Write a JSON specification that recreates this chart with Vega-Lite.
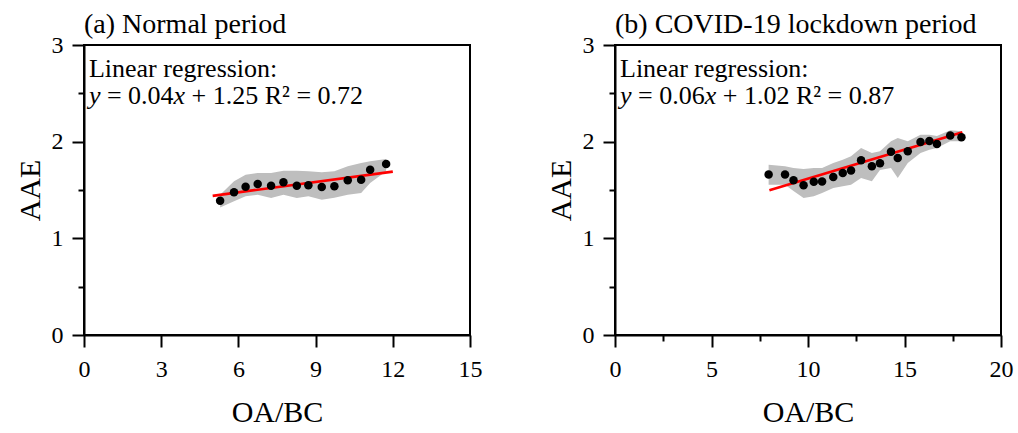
{
  "$schema": "https://vega.github.io/schema/vega-lite/v6.json",
  "padding": {"left": 14, "top": 10, "right": 5, "bottom": 0},
  "background": "white",
  "spacing": 62,
  "config": {
    "font": "Liberation Serif",
    "view": {"stroke": "black", "strokeWidth": 2},
    "axis": {
      "domainColor": "black", "domainWidth": 2, "tickColor": "black", "tickWidth": 2,
      "labelColor": "black", "labelFontSize": 24, "labelFont": "Liberation Serif",
      "titleFont": "Liberation Serif", "titleFontSize": 30, "titleFontWeight": "normal", "titleColor": "black",
      "grid": false, "labelOverlap": false, "labelFlush": false
    },
    "title": {"font": "Liberation Serif", "fontSize": 28, "fontWeight": "normal", "anchor": "start", "frame": "group", "color": "black", "offset": -6}
  },
  "datasets": {
    "a_pts": [
      {"oabc": 5.29, "aae": 1.39, "lo": 1.32, "hi": 1.45},
      {"oabc": 5.83, "aae": 1.476, "lo": 1.383, "hi": 1.59},
      {"oabc": 6.28, "aae": 1.534, "lo": 1.435, "hi": 1.658},
      {"oabc": 6.75, "aae": 1.562, "lo": 1.451, "hi": 1.676},
      {"oabc": 7.27, "aae": 1.545, "lo": 1.417, "hi": 1.676},
      {"oabc": 7.75, "aae": 1.58, "lo": 1.451, "hi": 1.7},
      {"oabc": 8.27, "aae": 1.545, "lo": 1.417, "hi": 1.7},
      {"oabc": 8.72, "aae": 1.548, "lo": 1.435, "hi": 1.693},
      {"oabc": 9.24, "aae": 1.531, "lo": 1.4, "hi": 1.683},
      {"oabc": 9.73, "aae": 1.538, "lo": 1.42, "hi": 1.693},
      {"oabc": 10.25, "aae": 1.6, "lo": 1.451, "hi": 1.745},
      {"oabc": 10.77, "aae": 1.606, "lo": 1.469, "hi": 1.779},
      {"oabc": 11.12, "aae": 1.71, "lo": 1.572, "hi": 1.797},
      {"oabc": 11.74, "aae": 1.77, "lo": 1.693, "hi": 1.821}
    ],
    "a_fit": [
      {"oabc": 5.0, "aae": 1.44},
      {"oabc": 12.0, "aae": 1.69}
    ],
    "a_txt": [
      {"tx": 0.19, "ty": 2.669, "label": "Linear regression:"},
      {"tx": 0.89, "ty": 2.39, "label": "= 0.04"},
      {"tx": 4.181, "ty": 2.39, "label": "+ 1.25 R² = 0.72"}
    ],
    "a_ital": [
      {"tx": 0.19, "ty": 2.39, "label": "y"},
      {"tx": 3.482, "ty": 2.39, "label": "x"}
    ],
    "b_pts": [
      {"oabc": 7.96, "aae": 1.66, "lo": 1.555, "hi": 1.762},
      {"oabc": 8.81, "aae": 1.66, "lo": 1.555, "hi": 1.745},
      {"oabc": 9.25, "aae": 1.6, "lo": 1.49, "hi": 1.727},
      {"oabc": 9.77, "aae": 1.549, "lo": 1.417, "hi": 1.717},
      {"oabc": 10.3, "aae": 1.586, "lo": 1.435, "hi": 1.727},
      {"oabc": 10.73, "aae": 1.588, "lo": 1.469, "hi": 1.727},
      {"oabc": 11.31, "aae": 1.634, "lo": 1.521, "hi": 1.779},
      {"oabc": 11.8, "aae": 1.676, "lo": 1.538, "hi": 1.813},
      {"oabc": 12.23, "aae": 1.701, "lo": 1.555, "hi": 1.849},
      {"oabc": 12.75, "aae": 1.807, "lo": 1.624, "hi": 1.934},
      {"oabc": 13.31, "aae": 1.745, "lo": 1.59, "hi": 1.883},
      {"oabc": 13.73, "aae": 1.776, "lo": 1.707, "hi": 1.9},
      {"oabc": 14.3, "aae": 1.896, "lo": 1.727, "hi": 2.004},
      {"oabc": 14.65, "aae": 1.831, "lo": 1.624, "hi": 2.038},
      {"oabc": 15.17, "aae": 1.9, "lo": 1.779, "hi": 2.004},
      {"oabc": 15.83, "aae": 1.996, "lo": 1.883, "hi": 2.072},
      {"oabc": 16.29, "aae": 2.007, "lo": 1.917, "hi": 2.072},
      {"oabc": 16.68, "aae": 1.976, "lo": 1.934, "hi": 2.059},
      {"oabc": 17.37, "aae": 2.064, "lo": 2.004, "hi": 2.118},
      {"oabc": 17.95, "aae": 2.045, "lo": 2.004, "hi": 2.107}
    ],
    "b_fit": [
      {"oabc": 8.0, "aae": 1.497},
      {"oabc": 18.0, "aae": 2.097}
    ],
    "b_txt": [
      {"tx": 0.26, "ty": 2.669, "label": "Linear regression:"},
      {"tx": 1.193, "ty": 2.39, "label": "= 0.06"},
      {"tx": 5.581, "ty": 2.39, "label": "+ 1.02 R² = 0.87"}
    ],
    "b_ital": [
      {"tx": 0.26, "ty": 2.39, "label": "y"},
      {"tx": 4.649, "ty": 2.39, "label": "x"}
    ]
  },
  "hconcat": [
    {
      "width": 386,
      "height": 290,
      "title": {"text": "(a) Normal period"},
      "layer": [
        {
          "data": {"name": "a_pts"},
          "mark": {"type": "area", "color": "#bebebe", "opacity": 1},
          "encoding": {
            "x": {
              "field": "oabc", "type": "quantitative",
              "scale": {"domain": [0, 15], "nice": false},
              "axis": {
                "title": "OA/BC", "values": [0, 1.5, 3, 4.5, 6, 7.5, 9, 10.5, 12, 13.5, 15],
                "format": "~g",
                "labelExpr": "datum.value % 3 === 0 ? datum.label : ''",
                "tickSize": {"condition": {"test": "datum.value % 3 === 0", "value": 12}, "value": 6},
                "labelPadding": 10, "titlePadding": 16
              }
            },
            "y": {
              "field": "lo", "type": "quantitative",
              "scale": {"domain": [0, 3], "nice": false},
              "axis": {
                "title": "AAE", "values": [0, 0.5, 1, 1.5, 2, 2.5, 3],
                "format": "~g",
                "labelExpr": "datum.value % 1 === 0 ? datum.label : ''",
                "tickSize": {"condition": {"test": "datum.value % 1 === 0", "value": 12}, "value": 6},
                "labelPadding": 9, "titlePadding": 6
              }
            },
            "y2": {"field": "hi"}
          }
        },
        {
          "data": {"name": "a_fit"},
          "mark": {"type": "line", "color": "#ff0000", "strokeWidth": 2.7},
          "encoding": {
            "x": {"field": "oabc", "type": "quantitative"},
            "y": {"field": "aae", "type": "quantitative"}
          }
        },
        {
          "data": {"name": "a_pts"},
          "mark": {"type": "circle", "color": "black", "opacity": 1, "size": 72},
          "encoding": {
            "x": {"field": "oabc", "type": "quantitative"},
            "y": {"field": "aae", "type": "quantitative"}
          }
        },
        {
          "data": {"name": "a_txt"},
          "mark": {"type": "text", "align": "left", "baseline": "alphabetic", "fontSize": 26, "font": "Liberation Serif", "color": "black"},
          "encoding": {
            "x": {"field": "tx", "type": "quantitative"},
            "y": {"field": "ty", "type": "quantitative"},
            "text": {"field": "label"}
          }
        },
        {
          "data": {"name": "a_ital"},
          "mark": {"type": "text", "align": "left", "baseline": "alphabetic", "fontSize": 26, "fontStyle": "italic", "font": "Liberation Serif", "color": "black"},
          "encoding": {
            "x": {"field": "tx", "type": "quantitative"},
            "y": {"field": "ty", "type": "quantitative"},
            "text": {"field": "label"}
          }
        }
      ]
    },
    {
      "width": 386,
      "height": 290,
      "title": {"text": "(b) COVID-19 lockdown period"},
      "layer": [
        {
          "data": {"name": "b_pts"},
          "mark": {"type": "area", "color": "#bebebe", "opacity": 1},
          "encoding": {
            "x": {
              "field": "oabc", "type": "quantitative",
              "scale": {"domain": [0, 20], "nice": false},
              "axis": {
                "title": "OA/BC", "values": [0, 2.5, 5, 7.5, 10, 12.5, 15, 17.5, 20],
                "format": "~g",
                "labelExpr": "datum.value % 5 === 0 ? datum.label : ''",
                "tickSize": {"condition": {"test": "datum.value % 5 === 0", "value": 12}, "value": 6},
                "labelPadding": 10, "titlePadding": 16
              }
            },
            "y": {
              "field": "lo", "type": "quantitative",
              "scale": {"domain": [0, 3], "nice": false},
              "axis": {
                "title": "AAE", "values": [0, 0.5, 1, 1.5, 2, 2.5, 3],
                "format": "~g",
                "labelExpr": "datum.value % 1 === 0 ? datum.label : ''",
                "tickSize": {"condition": {"test": "datum.value % 1 === 0", "value": 12}, "value": 6},
                "labelPadding": 9, "titlePadding": 6
              }
            },
            "y2": {"field": "hi"}
          }
        },
        {
          "data": {"name": "b_fit"},
          "mark": {"type": "line", "color": "#ff0000", "strokeWidth": 2.7},
          "encoding": {
            "x": {"field": "oabc", "type": "quantitative"},
            "y": {"field": "aae", "type": "quantitative"}
          }
        },
        {
          "data": {"name": "b_pts"},
          "mark": {"type": "circle", "color": "black", "opacity": 1, "size": 72},
          "encoding": {
            "x": {"field": "oabc", "type": "quantitative"},
            "y": {"field": "aae", "type": "quantitative"}
          }
        },
        {
          "data": {"name": "b_txt"},
          "mark": {"type": "text", "align": "left", "baseline": "alphabetic", "fontSize": 26, "font": "Liberation Serif", "color": "black"},
          "encoding": {
            "x": {"field": "tx", "type": "quantitative"},
            "y": {"field": "ty", "type": "quantitative"},
            "text": {"field": "label"}
          }
        },
        {
          "data": {"name": "b_ital"},
          "mark": {"type": "text", "align": "left", "baseline": "alphabetic", "fontSize": 26, "fontStyle": "italic", "font": "Liberation Serif", "color": "black"},
          "encoding": {
            "x": {"field": "tx", "type": "quantitative"},
            "y": {"field": "ty", "type": "quantitative"},
            "text": {"field": "label"}
          }
        }
      ]
    }
  ]
}
